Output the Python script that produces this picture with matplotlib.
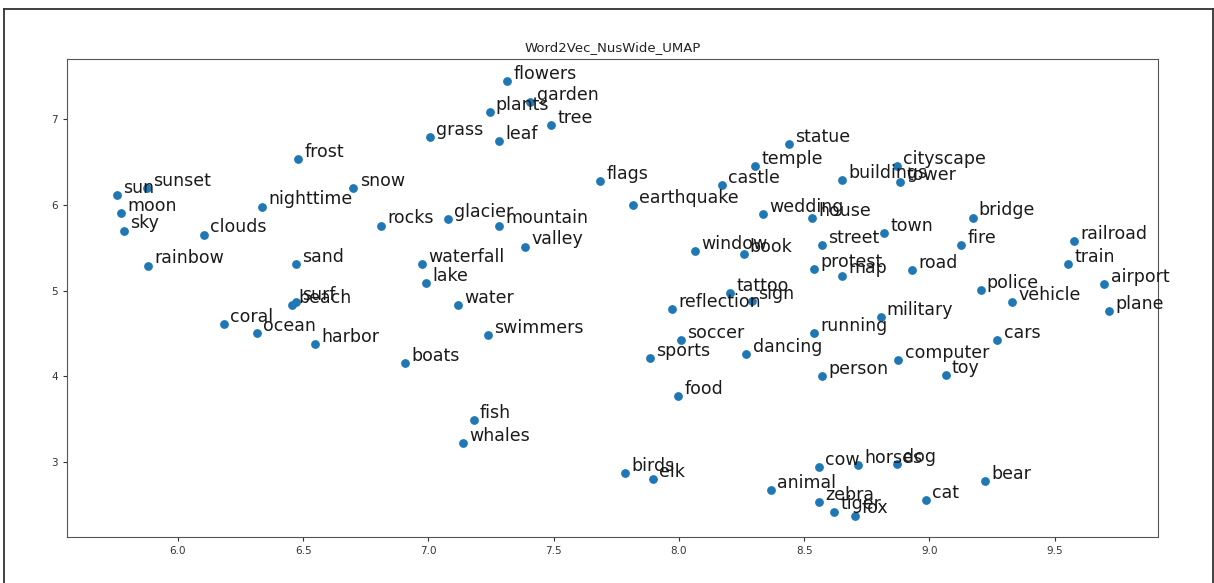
import numpy as np
import matplotlib.pyplot as plt
from matplotlib.lines import Line2D

words = ["sun", "sunset", "moon", "sky", "clouds", "rainbow", "frost", "nighttime",
         "snow", "rocks", "grass", "sand", "glacier", "waterfall", "lake", "surf",
         "beach", "coral", "ocean", "harbor", "boats", "water", "swimmers", "fish",
         "whales", "flowers", "plants", "garden", "tree", "leaf", "mountain", "valley",
         "flags", "earthquake", "castle", "temple", "statue", "cityscape", "buildings",
         "tower", "wedding", "house", "town", "street", "bridge", "fire", "window",
         "book", "protest", "map", "road", "railroad", "train", "airport", "plane",
         "police", "vehicle", "tattoo", "sign", "reflection", "military", "running",
         "soccer", "sports", "dancing", "cars", "computer", "toy", "person", "food",
         "birds", "elk", "cow", "horses", "dog", "bear", "animal", "zebra", "tiger",
         "fox", "cat"]

umap_x = [5.755, 5.876, 5.774, 5.783, 6.103, 5.880, 6.480, 6.335,
          6.700, 6.812, 7.006, 6.471, 7.077, 6.975, 6.992, 6.472,
          6.457, 6.182, 6.314, 6.546, 6.908, 7.119, 7.237, 7.180,
          7.137, 7.313, 7.244, 7.407, 7.491, 7.283, 7.283, 7.385,
          7.685, 7.815, 8.170, 8.303, 8.440, 8.870, 8.651,
          8.882, 8.334, 8.530, 8.820, 8.571, 9.172, 9.126, 8.063,
          8.258, 8.539, 8.651, 8.929, 9.578, 9.553, 9.698, 9.716,
          9.204, 9.329, 8.204, 8.290, 7.972, 8.805, 8.540,
          8.009, 7.883, 8.269, 9.271, 8.876, 9.065, 8.572, 7.998,
          7.784, 7.896, 8.558, 8.716, 8.871, 9.223, 8.366, 8.560, 8.619,
          8.703, 8.986]

umap_y = [6.115, 6.198, 5.899, 5.698, 5.651, 5.291, 6.531, 5.977,
          6.190, 5.756, 6.783, 5.310, 5.827, 5.310, 5.082, 4.870,
          4.830, 4.605, 4.503, 4.380, 4.155, 4.826, 4.484, 3.488,
          3.229, 7.442, 7.081, 7.195, 6.923, 6.741, 5.756, 5.512,
          6.279, 5.996, 6.233, 6.450, 6.709, 6.453, 6.291,
          6.260, 5.895, 5.845, 5.667, 5.531, 5.849, 5.531, 5.457,
          5.427, 5.252, 5.174, 5.241, 5.578, 5.306, 5.070, 4.756,
          5.008, 4.864, 4.969, 4.874, 4.780, 4.696, 4.500,
          4.427, 4.218, 4.265, 4.427, 4.186, 4.016, 4.008, 3.767,
          2.872, 2.806, 2.950, 2.965, 2.981, 2.783, 2.678, 2.535, 2.427,
          2.380, 2.563]

fig = plt.figure(figsize=(12.14, 5.83), dpi=100)
ax = fig.add_axes([0.0552, 0.0784, 0.899, 0.8204])

ax.scatter(umap_x, umap_y, s=28, color="#1f77b4", zorder=2)
for w, x, y in zip(words, umap_x, umap_y):
    ax.annotate(w, xy=(x, y), xytext=(4.5, 1.5), textcoords="offset points",
                fontsize=12.5, color="#1a1a1a", zorder=3)

ax.set_title("Word2Vec_NusWide_UMAP", fontsize=9.5, color="#222222")
ax.tick_params(labelsize=7.5, colors="#333333", length=3)
for sp in ax.spines.values():
    sp.set_color("#555555")

# frame around the whole picture (screenshot border)
fig.add_artist(Line2D([4 / 1214, 4 / 1214], [0, 1 - 9 / 583], color="#333333", lw=1.3))
fig.add_artist(Line2D([4 / 1214, 1213 / 1214], [1 - 9 / 583, 1 - 9 / 583], color="#333333", lw=1.3))
fig.add_artist(Line2D([1213 / 1214, 1213 / 1214], [0, 1 - 9 / 583], color="#333333", lw=1.3))

fig.savefig("out.png", dpi=100)
